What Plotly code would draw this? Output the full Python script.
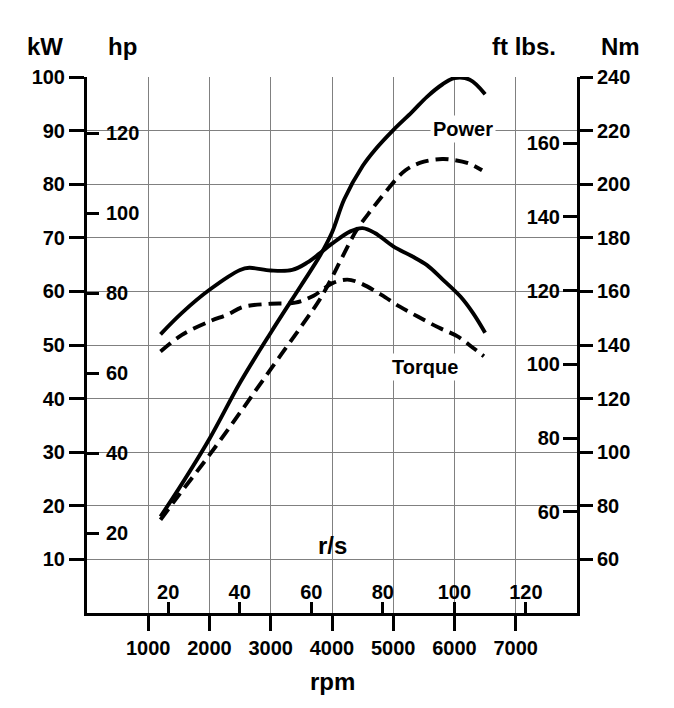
import plotly.graph_objects as go

# ---------------- data ----------------
rpm_power_solid = [1200, 1500, 2000, 2500, 3000, 3500, 3800, 4000, 4200, 4500, 4700, 5000, 5300, 5550, 5800, 6000, 6250, 6500]
kw_power_solid = [18.0, 23.2, 32.5, 43.0, 52.3, 61.2, 66.6, 71.0, 77.2, 83.4, 86.4, 90.1, 93.4, 96.3, 98.6, 99.8, 99.5, 96.8]

rpm_power_dash = [1200, 1500, 2000, 2500, 3000, 3500, 3800, 4000, 4150, 4400, 4650, 4850, 5200, 5500, 5800, 6000, 6250, 6450]
kw_power_dash = [17.4, 22.0, 29.5, 37.4, 45.5, 53.5, 58.5, 62.6, 66.0, 71.4, 75.3, 78.2, 82.6, 84.2, 84.7, 84.5, 83.8, 82.6]

rpm_torque_solid = [1200, 1550, 2000, 2500, 2650, 3000, 3350, 3600, 3800, 4000, 4300, 4500, 4700, 5000, 5300, 5550, 5800, 6100, 6300, 6500]
nm_torque_solid = [144.0, 152.0, 160.6, 168.0, 168.8, 167.8, 168.0, 170.8, 174.2, 177.8, 182.4, 183.6, 181.8, 176.8, 173.2, 169.8, 164.6, 158.0, 152.0, 144.6]

rpm_torque_dash = [1200, 1550, 2000, 2300, 2550, 3000, 3400, 3700, 4000, 4250, 4450, 4800, 5100, 5400, 5750, 6050, 6300, 6480]
nm_torque_dash = [137.6, 143.8, 148.8, 151.4, 154.2, 155.4, 155.8, 158.4, 163.0, 164.4, 163.2, 158.8, 154.4, 150.6, 146.4, 143.2, 139.0, 135.8]

rpm_ticks = [1000, 2000, 3000, 4000, 5000, 6000, 7000]
rps_ticks = [20, 40, 60, 80, 100, 120]
kw_ticks = [10, 20, 30, 40, 50, 60, 70, 80, 90, 100]
hp_ticks = [20, 40, 60, 80, 100, 120]
nm_ticks = [60, 80, 100, 120, 140, 160, 180, 200, 220, 240]
ftlb_ticks = [60, 80, 100, 120, 140, 160]

# ---------------- figure ----------------
FONT = "Liberation Sans"
tickfont = dict(family=FONT, size=20, color="black", weight="bold")
GRID = "#808080"
LW = 3.9
DASH = "13px,7px"

L, R, T, B = 87, 97, 77, 95
W, H = 674, 708
PW, PH = W - L - R, H - T - B


def px(x):
    return (x - L) / PW


def py(y):
    return (H - B - y) / PH


fig = go.Figure()

fig.add_trace(go.Scatter(x=rpm_power_solid, y=kw_power_solid, mode="lines",
                         line=dict(color="black", width=LW, shape="spline", smoothing=1.0),
                         xaxis="x", yaxis="y", showlegend=False, hoverinfo="skip"))
fig.add_trace(go.Scatter(x=rpm_power_dash, y=kw_power_dash, mode="lines",
                         line=dict(color="black", width=LW, shape="spline", smoothing=1.0, dash=DASH),
                         xaxis="x", yaxis="y", showlegend=False, hoverinfo="skip"))
fig.add_trace(go.Scatter(x=rpm_torque_solid, y=nm_torque_solid, mode="lines",
                         line=dict(color="black", width=LW, shape="spline", smoothing=1.0),
                         xaxis="x", yaxis="y3", showlegend=False, hoverinfo="skip"))
fig.add_trace(go.Scatter(x=rpm_torque_dash, y=nm_torque_dash, mode="lines",
                         line=dict(color="black", width=LW, shape="spline", smoothing=1.0, dash=DASH),
                         xaxis="x", yaxis="y3", showlegend=False, hoverinfo="skip"))

fig.update_layout(
    width=W, height=H,
    margin=dict(l=L, r=R, t=T, b=B, pad=0),
    paper_bgcolor="white", plot_bgcolor="white",
    showlegend=False,
    xaxis=dict(range=[0, 8000], tickvals=rpm_ticks, ticks="outside", ticklen=15,
               tickwidth=2.5, tickcolor="black", tickfont=tickfont,
               showline=True, linecolor="black", linewidth=3,
               showgrid=True, gridcolor=GRID, gridwidth=1, zeroline=False, fixedrange=True),
    xaxis2=dict(range=[-2.7, 134.3], overlaying="x", side="bottom", anchor="y",
                tickvals=rps_ticks, ticks="inside", ticklabelposition="inside", ticklen=11,
                tickwidth=2.5, tickcolor="black", tickfont=tickfont,
                showline=False, showgrid=False, zeroline=False, fixedrange=True),
    yaxis=dict(range=[0, 100], tickvals=kw_ticks, ticks="outside", ticklen=15,
               tickwidth=2.5, tickcolor="black", tickfont=tickfont,
               showline=True, linecolor="black", linewidth=3,
               showgrid=True, gridcolor=GRID, gridwidth=1, zeroline=False, fixedrange=True),
    yaxis2=dict(range=[0, 134.1], overlaying="y", side="left", anchor="x",
                tickvals=hp_ticks, ticks="inside", ticklabelposition="inside", ticklen=12,
                ticklabelstandoff=8,
                tickwidth=2.5, tickcolor="black", tickfont=tickfont,
                showline=False, showgrid=False, zeroline=False, fixedrange=True),
    yaxis3=dict(range=[40, 240], overlaying="y", side="right", anchor="x",
                tickvals=nm_ticks, ticks="outside", ticklen=13,
                tickwidth=2.5, tickcolor="black", tickfont=tickfont,
                showline=True, linecolor="black", linewidth=3,
                showgrid=False, zeroline=False, fixedrange=True),
    yaxis4=dict(range=[32.6, 177.9], overlaying="y", side="right", anchor="x",
                tickvals=ftlb_ticks, ticks="inside", ticklabelposition="inside", ticklen=14,
                ticklabelstandoff=4,
                tickwidth=2.5, tickcolor="black", tickfont=tickfont,
                showline=False, showgrid=False, zeroline=False, fixedrange=True),
)

# dummy traces so the extra axes are drawn
fig.add_trace(go.Scatter(x=[None], y=[None], xaxis="x2", yaxis="y", showlegend=False, hoverinfo="skip"))
fig.add_trace(go.Scatter(x=[None], y=[None], xaxis="x", yaxis="y2", showlegend=False, hoverinfo="skip"))
fig.add_trace(go.Scatter(x=[None], y=[None], xaxis="x", yaxis="y4", showlegend=False, hoverinfo="skip"))

titlefont = dict(family=FONT, size=24, color="black", weight="bold")
for text, x, y in [("kW", 45, 47), ("hp", 122, 47), ("ft lbs.", 524, 47), ("Nm", 620, 47),
                   ("r/s", 332, 545), ("rpm", 332, 681)]:
    fig.add_annotation(text=text, x=px(x), y=py(y), xref="paper", yref="paper",
                       showarrow=False, font=titlefont, xanchor="center", yanchor="middle")

labfont = dict(family=FONT, size=20, color="black", weight="bold")
fig.add_annotation(text="Power", x=6140, y=90.3, xref="x", yref="y", showarrow=False,
                   font=labfont, bgcolor="white", borderpad=2)
fig.add_annotation(text="Torque", x=5520, y=45.9, xref="x", yref="y", showarrow=False,
                   font=labfont, bgcolor="white", borderpad=2)

fig.write_html("out.html")
